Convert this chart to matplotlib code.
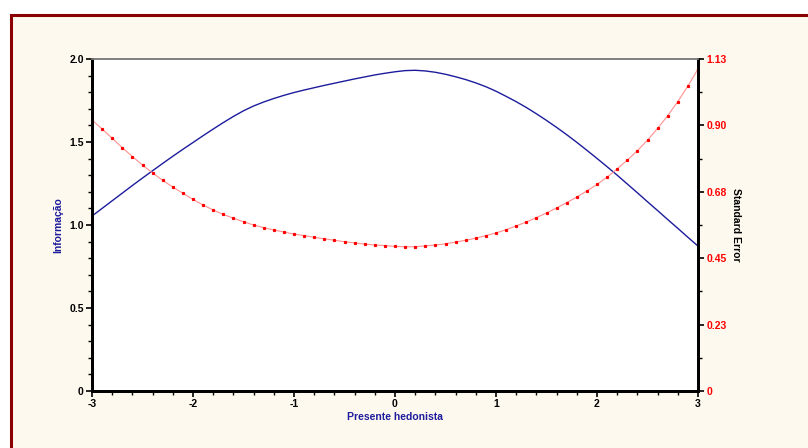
import matplotlib
matplotlib.use("Agg")
import matplotlib.pyplot as plt
from matplotlib.patches import Rectangle
from matplotlib.ticker import FixedLocator, MultipleLocator
import numpy as np

plt.rcParams["font.family"] = ["Liberation Sans", "DejaVu Sans"]

theta = [-3.0, -2.9, -2.8, -2.7, -2.6, -2.5, -2.4, -2.3, -2.2, -2.1,
         -2.0, -1.9, -1.8, -1.7, -1.6, -1.5, -1.4, -1.3, -1.2, -1.1,
         -1.0, -0.9, -0.8, -0.7, -0.6, -0.5, -0.4, -0.3, -0.2, -0.1,
         0.0, 0.1, 0.2, 0.3, 0.4, 0.5, 0.6, 0.7, 0.8, 0.9,
         1.0, 1.1, 1.2, 1.3, 1.4, 1.5, 1.6, 1.7, 1.8, 1.9,
         2.0, 2.1, 2.2, 2.3, 2.4, 2.5, 2.6, 2.7, 2.8, 2.9, 3.0]

informacao = [1.054, 1.100, 1.146, 1.192, 1.238, 1.283, 1.327, 1.371, 1.414, 1.456,
              1.497, 1.538, 1.578, 1.617, 1.654, 1.688, 1.717, 1.741, 1.762, 1.781,
              1.798, 1.813, 1.827, 1.841, 1.854, 1.867, 1.880, 1.892, 1.904, 1.914,
              1.923, 1.930, 1.932, 1.928, 1.920, 1.908, 1.893, 1.876, 1.856, 1.833,
              1.806, 1.775, 1.743, 1.708, 1.670, 1.630, 1.588, 1.544, 1.498, 1.450,
              1.401, 1.351, 1.300, 1.247, 1.194, 1.140, 1.087, 1.033, 0.980, 0.926, 0.873]

std_error = [0.922, 0.892, 0.860, 0.828, 0.798, 0.769, 0.742, 0.717, 0.694, 0.673,
             0.652, 0.633, 0.616, 0.601, 0.588, 0.576, 0.565, 0.556, 0.548, 0.541,
             0.534, 0.529, 0.523, 0.518, 0.513, 0.508, 0.504, 0.500, 0.497, 0.495,
             0.492, 0.491, 0.491, 0.494, 0.497, 0.501, 0.507, 0.513, 0.520, 0.529,
             0.538, 0.549, 0.562, 0.575, 0.590, 0.606, 0.623, 0.641, 0.660, 0.681,
             0.703, 0.728, 0.756, 0.786, 0.818, 0.854, 0.894, 0.937, 0.985, 1.038, 1.096]

left_ticks = [0, 0.5, 1.0, 1.5, 2.0]
left_labels = ["0", "0.5", "1.0", "1.5", "2.0"]
se_max = 1.13
right_ticks = [0, 0.226, 0.452, 0.678, 0.904, 1.13]
right_labels = ["0", "0.23", "0.45", "0.68", "0.90", "1.13"]

fig = plt.figure(figsize=(8.08, 4.48), dpi=100, facecolor="white")
fig.patches.append(Rectangle((11 / 808, -0.1), 1.0, 1 - 15 / 448 + 0.1,
                             transform=fig.transFigure, facecolor="#fef9ee",
                             edgecolor="#8b0000", linewidth=2.2, zorder=-10))

ax = fig.add_axes([92 / 808, 1 - 391 / 448, 606 / 808, 332 / 448])
ax.set_facecolor("white")
ax.plot(theta, informacao, color="#1c1c9c", lw=1.0)
ax.set_xlim(-3, 3)
ax.set_ylim(0, 2.0)

ax2 = ax.twinx()
ax2.plot(theta, std_error, color="#ff9090", lw=0.8, marker="s", ms=1.3,
         mfc="red", mec="red")
ax2.set_ylim(0, se_max)

bold = dict(fontsize=7.5, fontweight="bold")

ax.set_xticks([-3, -2, -1, 0, 1, 2, 3])
ax.set_xticklabels(["-3", "-2", "-1", "0", "1", "2", "3"], **bold)
ax.xaxis.set_minor_locator(MultipleLocator(0.2))
ax.set_yticks(left_ticks)
ax.set_yticklabels(left_labels, **bold)
ax.yaxis.set_minor_locator(MultipleLocator(0.1))

ax2.set_yticks(right_ticks)
ax2.set_yticklabels(right_labels, color="red", **bold)
ax2.yaxis.set_minor_locator(FixedLocator([0.113, 0.339, 0.565, 0.791, 1.017]))

for a in (ax, ax2):
    a.tick_params(which="major", length=4, width=1.2, color="black", pad=2)
    a.tick_params(which="minor", length=3, width=1.0, color="black")
    for side in ("left", "bottom", "right"):
        a.spines[side].set_linewidth(2.0)
        a.spines[side].set_color("black")
    a.spines["top"].set_color("#808080")
    a.spines["top"].set_linewidth(1.2)

ax.set_xlabel("Presente hedonista", color="#1c1c9c", labelpad=2, **bold)
ax.set_ylabel("Informação", color="#1c1c9c", labelpad=4, **bold)
ax2.set_ylabel("Standard Error", color="black", rotation=-90, labelpad=10, **bold)

fig.savefig("out.png", dpi=100, facecolor=fig.get_facecolor())
